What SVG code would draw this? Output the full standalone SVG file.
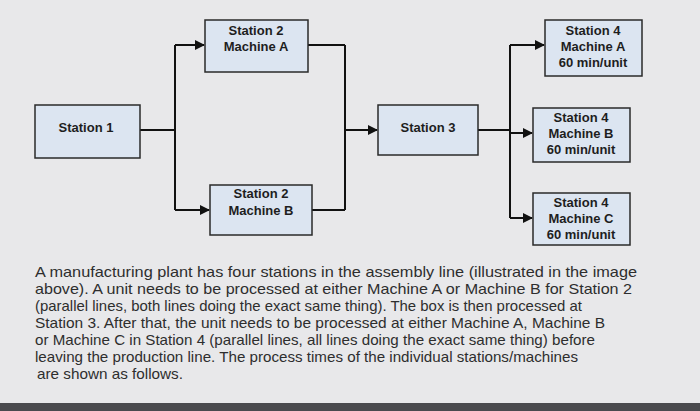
<svg xmlns="http://www.w3.org/2000/svg" width="700" height="411" viewBox="0 0 700 411">
<defs>
<style>
.box{fill:#dce5f1;stroke:#2a2a2a;stroke-width:1.5}
.lbl{font-family:"Liberation Sans",Arial,sans-serif;font-size:13px;font-weight:bold;fill:#1e1e1e;text-anchor:middle}
.ln{fill:none;stroke:#111;stroke-width:2}
.para{font-family:"Liberation Sans",Arial,sans-serif;font-size:15px;fill:#2e2e2e}
</style>
<marker id="ar" viewBox="0 0 10 10" refX="9" refY="5" markerWidth="5" markerHeight="5" orient="auto"><path d="M0,0 L10,5 L0,10 z" fill="#111"/></marker>
</defs>
<rect width="700" height="411" fill="#e8e8ea"/>
<rect x="0" y="403" width="700" height="8" fill="#4a4a4e"/>
<g id="connectors">
<path class="ln" d="M140,130 H175 M175,45 V210"/>
<path class="ln" marker-end="url(#ar)" d="M175,45 H204"/>
<path class="ln" marker-end="url(#ar)" d="M175,210 H209"/>
<path class="ln" d="M308,45 H345 M312,210 H345 M345,45 V210"/>
<path class="ln" marker-end="url(#ar)" d="M345,130 H377"/>
<path class="ln" d="M478,130 H510 M510,45 V218"/>
<path class="ln" marker-end="url(#ar)" d="M510,45 H544"/>
<path class="ln" marker-end="url(#ar)" d="M510,133 H532"/>
<path class="ln" marker-end="url(#ar)" d="M510,218 H532"/>
</g>
<g id="s1"><rect class="box" x="35" y="105" width="105" height="53"/><text class="lbl" x="86" y="132">Station 1</text></g>
<g id="s2a"><rect class="box" x="205" y="20" width="103" height="52"/><text class="lbl" x="256" y="35">Station 2</text><text class="lbl" x="256" y="51">Machine A</text></g>
<g id="s2b"><rect class="box" x="210" y="185" width="102" height="50"/><text class="lbl" x="261" y="198">Station 2</text><text class="lbl" x="261" y="215">Machine B</text></g>
<g id="s3"><rect class="box" x="378" y="105" width="100" height="50"/><text class="lbl" x="428" y="132">Station 3</text></g>
<g id="s4a"><rect class="box" x="545" y="20" width="97" height="56"/><text class="lbl" x="593" y="35">Station 4</text><text class="lbl" x="593" y="51">Machine A</text><text class="lbl" x="593" y="67">60 min/unit</text></g>
<g id="s4b"><rect class="box" x="533" y="108" width="97" height="54"/><text class="lbl" x="581" y="122">Station 4</text><text class="lbl" x="581" y="138">Machine B</text><text class="lbl" x="581" y="154">60 min/unit</text></g>
<g id="s4c"><rect class="box" x="533" y="193" width="97" height="52"/><text class="lbl" x="581" y="207">Station 4</text><text class="lbl" x="581" y="223">Machine C</text><text class="lbl" x="581" y="239">60 min/unit</text></g>
<g id="text">
<text class="para" x="35" y="277" textLength="602" lengthAdjust="spacingAndGlyphs">A manufacturing plant has four stations in the assembly line (illustrated in the image</text>
<text class="para" x="35" y="294" textLength="597" lengthAdjust="spacingAndGlyphs">above). A unit needs to be processed at either Machine A or Machine B for Station 2</text>
<text class="para" x="35" y="311" textLength="547" lengthAdjust="spacingAndGlyphs">(parallel lines, both lines doing the exact same thing). The box is then processed at</text>
<text class="para" x="35" y="328" textLength="570" lengthAdjust="spacingAndGlyphs">Station 3. After that, the unit needs to be processed at either Machine A, Machine B</text>
<text class="para" x="35" y="345" textLength="560" lengthAdjust="spacingAndGlyphs">or Machine C in Station 4 (parallel lines, all lines doing the exact same thing) before</text>
<text class="para" x="35" y="362" textLength="543" lengthAdjust="spacingAndGlyphs">leaving the production line. The process times of the individual stations/machines</text>
<text class="para" x="37" y="379" textLength="146" lengthAdjust="spacingAndGlyphs">are shown as follows.</text>
</g>
</svg>
